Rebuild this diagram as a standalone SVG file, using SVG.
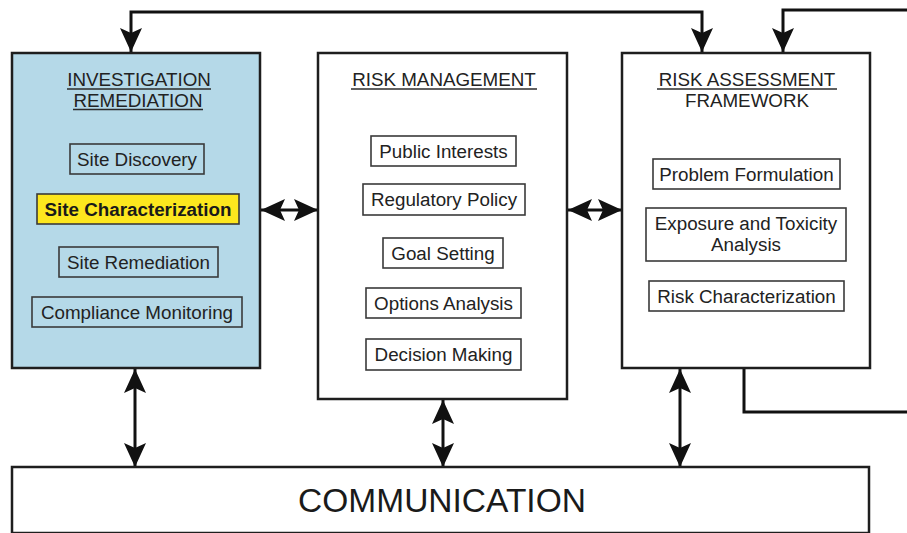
<svg xmlns="http://www.w3.org/2000/svg" width="907" height="533" viewBox="0 0 907 533">
  <style>
    .main { fill: #ffffff; stroke: #1e1e1e; stroke-width: 2.5; }
    .blue { fill: #b5d9e8; }
    .sub { fill: none; stroke: #3a3a3a; stroke-width: 1.6; }
    .hl { fill: #fde71e; stroke: #3a3a3a; stroke-width: 1.6; }
    .t { font-family: "Liberation Sans", Arial, sans-serif; font-size: 18.8px; fill: #222222; text-anchor: middle; }
    .b { font-weight: bold; fill: #1a1a1a; }
    .big { font-size: 33.5px; fill: #1a1a1a; }
    .ul { stroke: #2b2b2b; stroke-width: 1.3; }
    .conn { fill: none; stroke: #111; stroke-width: 3; }
  </style>
  <defs>
    <!-- solid arrowhead shared by all connectors -->
    <marker id="head" markerUnits="userSpaceOnUse" markerWidth="24" markerHeight="22" viewBox="0 0 24 22" refX="24" refY="11" orient="auto-start-reverse">
      <path d="M0,0 L24,11 L0,22 L5,11 z" fill="#111"/>
    </marker>
  </defs>

  <rect width="907" height="533" fill="#ffffff"/>

  <g id="connectors">
    <path class="conn" d="M131,52 V12 H702 V52" marker-start="url(#head)" marker-end="url(#head)"/>
    <path class="conn" d="M744,368 V412 H912 V10 H783 V52" marker-end="url(#head)"/>
    <path class="conn" d="M261,210 H318" marker-start="url(#head)" marker-end="url(#head)"/>
    <path class="conn" d="M568,210 H622" marker-start="url(#head)" marker-end="url(#head)"/>
    <path class="conn" d="M135,369 V467" marker-start="url(#head)" marker-end="url(#head)"/>
    <path class="conn" d="M443,400 V467" marker-start="url(#head)" marker-end="url(#head)"/>
    <path class="conn" d="M680,369 V467" marker-start="url(#head)" marker-end="url(#head)"/>
  </g>

  <g id="investigation">
    <rect class="main blue" x="12" y="53" width="248" height="315"/>
    <text class="t" x="139" y="86">INVESTIGATION</text>
    <line class="ul" x1="67" y1="89" x2="211" y2="89"/>
    <text class="t" x="138" y="107">REMEDIATION</text>
    <line class="ul" x1="73" y1="109.5" x2="203" y2="109.5"/>
    <g id="site-discovery">
      <rect class="sub" x="70" y="144" width="134" height="30"/>
      <text class="t" x="137" y="166">Site Discovery</text>
    </g>
    <g id="site-characterization">
      <rect class="hl" x="37" y="194" width="202" height="30"/>
      <text class="t b" x="138" y="216">Site Characterization</text>
    </g>
    <g id="site-remediation">
      <rect class="sub" x="59" y="247" width="159" height="30"/>
      <text class="t" x="138.5" y="269">Site Remediation</text>
    </g>
    <g id="compliance-monitoring">
      <rect class="sub" x="32" y="297" width="210" height="30"/>
      <text class="t" x="137" y="319">Compliance Monitoring</text>
    </g>
  </g>

  <g id="risk-management">
    <rect class="main" x="318" y="53" width="249" height="346"/>
    <text class="t" x="444" y="86">RISK MANAGEMENT</text>
    <line class="ul" x1="351" y1="89" x2="537" y2="89"/>
    <g id="public-interests">
      <rect class="sub" x="371" y="136" width="145" height="30"/>
      <text class="t" x="443.5" y="158">Public Interests</text>
    </g>
    <g id="regulatory-policy">
      <rect class="sub" x="363" y="184" width="162" height="31"/>
      <text class="t" x="444" y="206">Regulatory Policy</text>
    </g>
    <g id="goal-setting">
      <rect class="sub" x="383" y="238" width="120" height="30"/>
      <text class="t" x="443" y="260">Goal Setting</text>
    </g>
    <g id="options-analysis">
      <rect class="sub" x="366" y="288" width="155" height="30"/>
      <text class="t" x="443.5" y="310">Options Analysis</text>
    </g>
    <g id="decision-making">
      <rect class="sub" x="366" y="339" width="155" height="31"/>
      <text class="t" x="443.5" y="361">Decision Making</text>
    </g>
  </g>

  <g id="risk-assessment">
    <rect class="main" x="622" y="53" width="248" height="315"/>
    <text class="t" x="747" y="86">RISK ASSESSMENT</text>
    <line class="ul" x1="657" y1="89" x2="837" y2="89"/>
    <text class="t" x="747" y="107">FRAMEWORK</text>
    <g id="problem-formulation">
      <rect class="sub" x="653" y="159" width="187" height="30"/>
      <text class="t" x="746.5" y="181">Problem Formulation</text>
    </g>
    <g id="exposure-toxicity">
      <rect class="sub" x="646" y="208" width="200" height="53"/>
      <text class="t" x="746" y="230">Exposure and Toxicity</text>
      <text class="t" x="746" y="251">Analysis</text>
    </g>
    <g id="risk-characterization">
      <rect class="sub" x="649" y="281" width="195" height="30"/>
      <text class="t" x="746.5" y="303">Risk Characterization</text>
    </g>
  </g>

  <g id="communication">
    <rect class="main" x="12" y="467" width="857" height="66"/>
    <text class="t big" x="442" y="512">COMMUNICATION</text>
  </g>
</svg>
